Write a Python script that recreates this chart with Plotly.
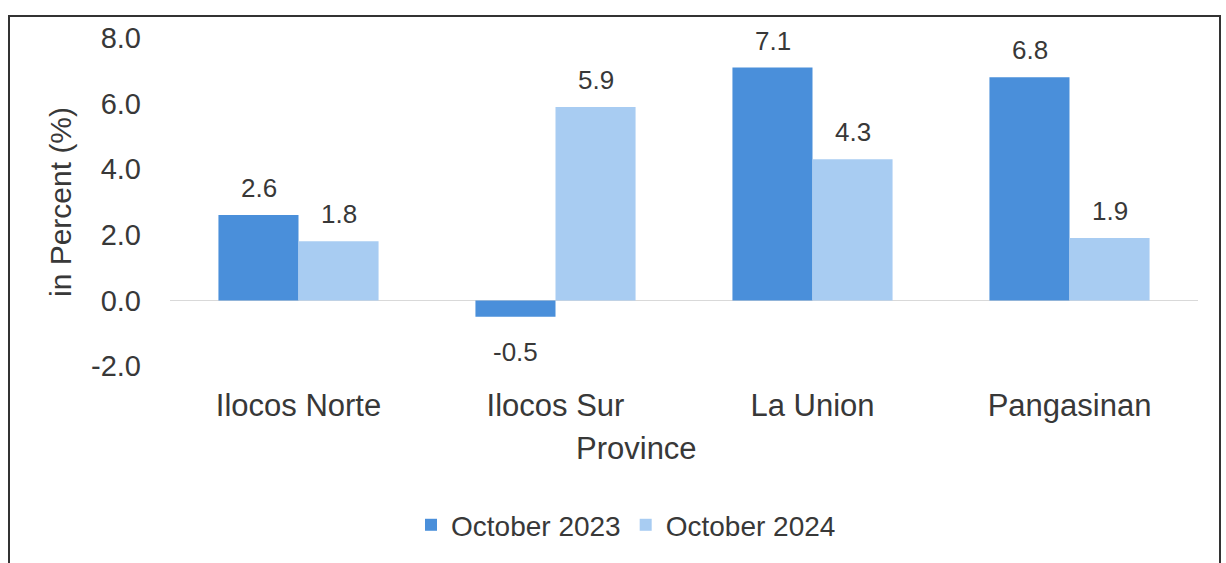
import plotly.graph_objects as go

provinces = ["Ilocos Norte", "Ilocos Sur", "La Union", "Pangasinan"]
oct_2023 = [2.6, -0.5, 7.1, 6.8]
oct_2024 = [1.8, 5.9, 4.3, 1.9]
y_ticks = [-2.0, 0.0, 2.0, 4.0, 6.0, 8.0]
y_tick_labels = ["-2.0", "0.0", "2.0", "4.0", "6.0", "8.0"]

FONT = "Liberation Sans, Arial, sans-serif"
TXT = "#383838"
C23 = "#4A8FDA"
C24 = "#A8CCF2"

fig = go.Figure()
fig.add_trace(go.Bar(name="October 2023", x=provinces, y=oct_2023,
                     marker=dict(color=C23, line=dict(width=0))))
fig.add_trace(go.Bar(name="October 2024", x=provinces, y=oct_2024,
                     marker=dict(color=C24, line=dict(width=0))))

annotations = []
for series, shift in ((oct_2023, -40), (oct_2024, 40)):
    for cat, v in zip(provinces, series):
        annotations.append(dict(
            x=cat, y=v, xref="x", yref="y", text=f"{v:.1f}", showarrow=False,
            xshift=shift, yshift=27 if v >= 0 else -35,
            xanchor="center", yanchor="middle",
            font=dict(size=26, color=TXT, family=FONT)))

annotations.append(dict(text="Province", xref="paper", yref="paper", x=(636 - 170) / 1028,
                        y=(366 - 448) / 328, xanchor="center", yanchor="middle", showarrow=False,
                        font=dict(size=31, color=TXT, family=FONT)))

fig.update_layout(
    width=1226, height=563,
    margin=dict(l=170, r=28, t=38, b=197),
    paper_bgcolor="white", plot_bgcolor="white",
    barmode="group", bargap=0.377, bargroupgap=0,
    font=dict(family=FONT, color=TXT),
    showlegend=True,
    legend=dict(orientation="h", x=0.4436, xanchor="center", y=-0.485, yanchor="middle",
                font=dict(size=28, color=TXT, family=FONT), itemwidth=30, traceorder="normal"),
    xaxis=dict(showgrid=False, showline=False, ticks="", tickfont=dict(size=31, color=TXT, family=FONT),
               ticklabelstandoff=18),
    yaxis=dict(range=[-2, 8], tickvals=y_ticks, ticktext=y_tick_labels, showgrid=False,
               zeroline=True, zerolinecolor="#d9d9d9", zerolinewidth=1, showline=False,
               tickfont=dict(size=29, color=TXT, family=FONT), ticklabelstandoff=28,
               title=dict(text="in Percent (%)", font=dict(size=30, color=TXT, family=FONT), standoff=10)),
    annotations=annotations,
    shapes=[dict(type="rect", xref="paper", yref="paper",
                 x0=(9 - 170) / 1028, x1=(1220 - 170) / 1028,
                 y0=(366 - 575) / 328, y1=(366 - 16) / 328,
                 line=dict(color="#333333", width=2), fillcolor="rgba(0,0,0,0)", layer="below")],
)

fig.write_html("out.html", config={"displayModeBar": False},
               post_script="document.body.style.margin='0';")
